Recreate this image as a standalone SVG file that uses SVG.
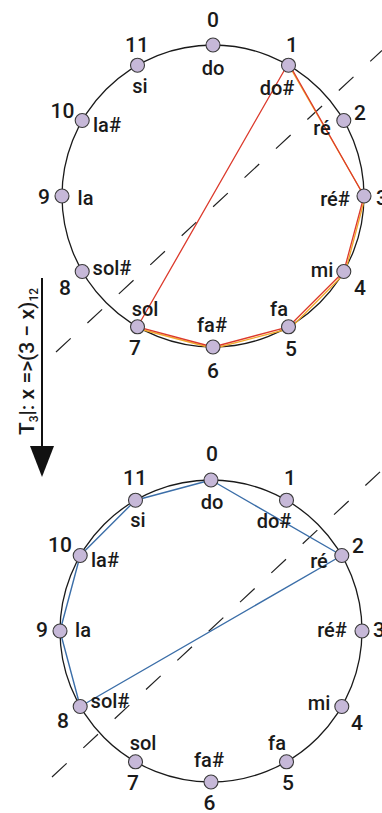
<svg xmlns="http://www.w3.org/2000/svg" width="382" height="813" viewBox="0 0 382 813">
<style>
.ring{fill:none;stroke:#1a1a1a;stroke-width:1.3}
.node{fill:#c6b8d8;stroke:#3a3a3a;stroke-width:1.1}
.num{font-family:Roboto,"Liberation Sans",sans-serif;font-size:21px;font-weight:500;fill:#1a1a1a;text-anchor:middle}
.lab{font-family:Roboto,"Liberation Sans",sans-serif;font-size:20px;font-weight:500;fill:#1a1a1a;text-anchor:middle}
.axis{stroke:#222;stroke-width:1.2;stroke-dasharray:20 22.8;fill:none}
.red{fill:none;stroke:#dc3a2c;stroke-width:1.3;stroke-linejoin:round}
.orange{fill:none;stroke:#f2a82a;stroke-width:1.3;stroke-linejoin:round}
.blue{fill:none;stroke:#3b6ea8;stroke-width:1.4;stroke-linejoin:round}
</style>
<rect width="382" height="813" fill="#ffffff"/>

<circle class="ring" cx="213" cy="196" r="151"/>
<circle class="ring" cx="211" cy="631" r="151"/>

<g id="connectors">
  <line class="axis" x1="56" y1="352" x2="382" y2="50.5"/>
  <line class="axis" x1="52" y1="777" x2="382" y2="470"/>
  <polyline class="orange" points="289.5,66.5 365,197.5 345,273 290,328.5 213.5,348.5 138,328.5"/>
  <polygon class="red" points="288.5,63 364,196 343.8,271.5 288.5,326.8 213,347 137.5,326.8"/>
  <polygon class="blue" points="211,480 341.8,555.5 80.2,706.5 60,631 80.2,555.5 135.5,500.2"/>
  <line x1="42" y1="278" x2="42" y2="450" stroke="#111" stroke-width="2"/>
  <polygon points="30,446 54,446 42,477" fill="#111"/>
</g>

<text font-family="Roboto,'Liberation Sans',sans-serif" font-size="21" font-weight="500" fill="#1a1a1a" transform="translate(34,435) rotate(-90)">T<tspan font-size="12" dy="4">3</tspan><tspan dy="-4">|: x =&gt;(3 − x)</tspan><tspan font-size="12" dy="4">12</tspan></text>

<g id="t0"><circle class="node" cx="213" cy="45" r="7"/><text class="num" x="213" y="27">0</text><text class="lab" x="213" y="75">do</text></g>
<g id="t1"><circle class="node" cx="288.5" cy="65.2" r="7"/><text class="num" x="292" y="52">1</text><text class="lab" x="277" y="95">do#</text></g>
<g id="t2"><circle class="node" cx="343.8" cy="120.5" r="7"/><text class="num" x="360" y="120">2</text><text class="lab" x="322" y="135">ré</text></g>
<g id="t3"><circle class="node" cx="364" cy="196" r="7"/><text class="num" x="376" y="205" style="text-anchor:start">3</text><text class="lab" x="335" y="206">ré#</text></g>
<g id="t4"><circle class="node" cx="343.8" cy="271.5" r="7"/><text class="num" x="360" y="295">4</text><text class="lab" x="322" y="277">mi</text></g>
<g id="t5"><circle class="node" cx="288.5" cy="326.8" r="7"/><text class="num" x="291" y="356">5</text><text class="lab" x="279" y="316">fa</text></g>
<g id="t6"><circle class="node" cx="213" cy="347" r="7"/><text class="num" x="213" y="378">6</text><text class="lab" x="212" y="332">fa#</text></g>
<g id="t7"><circle class="node" cx="137.5" cy="326.8" r="7"/><text class="num" x="135" y="355">7</text><text class="lab" x="145" y="316">sol</text></g>
<g id="t8"><circle class="node" cx="82.2" cy="271.5" r="7"/><text class="num" x="65" y="295">8</text><text class="lab" x="112" y="275">sol#</text></g>
<g id="t9"><circle class="node" cx="62" cy="196" r="7"/><text class="num" x="44" y="204">9</text><text class="lab" x="85.5" y="205">la</text></g>
<g id="t10"><circle class="node" cx="82.2" cy="120.5" r="7"/><text class="num" x="62.5" y="118">10</text><text class="lab" x="107" y="132">la#</text></g>
<g id="t11"><circle class="node" cx="137.5" cy="65.2" r="7"/><text class="num" x="137" y="52">11</text><text class="lab" x="140" y="93">si</text></g>

<g id="b0"><circle class="node" cx="211" cy="480" r="7"/><text class="num" x="212" y="461">0</text><text class="lab" x="212" y="509">do</text></g>
<g id="b1"><circle class="node" cx="286.5" cy="500.2" r="7"/><text class="num" x="290" y="485">1</text><text class="lab" x="274" y="528">do#</text></g>
<g id="b2"><circle class="node" cx="341.8" cy="555.5" r="7"/><text class="num" x="358" y="553">2</text><text class="lab" x="319" y="568">ré</text></g>
<g id="b3"><circle class="node" cx="362" cy="631" r="7"/><text class="num" x="373" y="637" style="text-anchor:start">3</text><text class="lab" x="332" y="637">ré#</text></g>
<g id="b4"><circle class="node" cx="341.8" cy="706.5" r="7"/><text class="num" x="357" y="730">4</text><text class="lab" x="319" y="710">mi</text></g>
<g id="b5"><circle class="node" cx="286.5" cy="761.8" r="7"/><text class="num" x="288" y="790">5</text><text class="lab" x="277" y="750">fa</text></g>
<g id="b6"><circle class="node" cx="211" cy="782" r="7"/><text class="num" x="209.5" y="810">6</text><text class="lab" x="209" y="767">fa#</text></g>
<g id="b7"><circle class="node" cx="135.5" cy="761.8" r="7"/><text class="num" x="133" y="790">7</text><text class="lab" x="143" y="750">sol</text></g>
<g id="b8"><circle class="node" cx="80.2" cy="706.5" r="7"/><text class="num" x="63" y="728">8</text><text class="lab" x="110" y="708">sol#</text></g>
<g id="b9"><circle class="node" cx="60" cy="631" r="7"/><text class="num" x="42" y="637">9</text><text class="lab" x="83" y="637">la</text></g>
<g id="b10"><circle class="node" cx="80.2" cy="555.5" r="7"/><text class="num" x="60" y="552">10</text><text class="lab" x="105" y="567">la#</text></g>
<g id="b11"><circle class="node" cx="135.5" cy="500.2" r="7"/><text class="num" x="135" y="485">11</text><text class="lab" x="138" y="527">si</text></g>
</svg>
